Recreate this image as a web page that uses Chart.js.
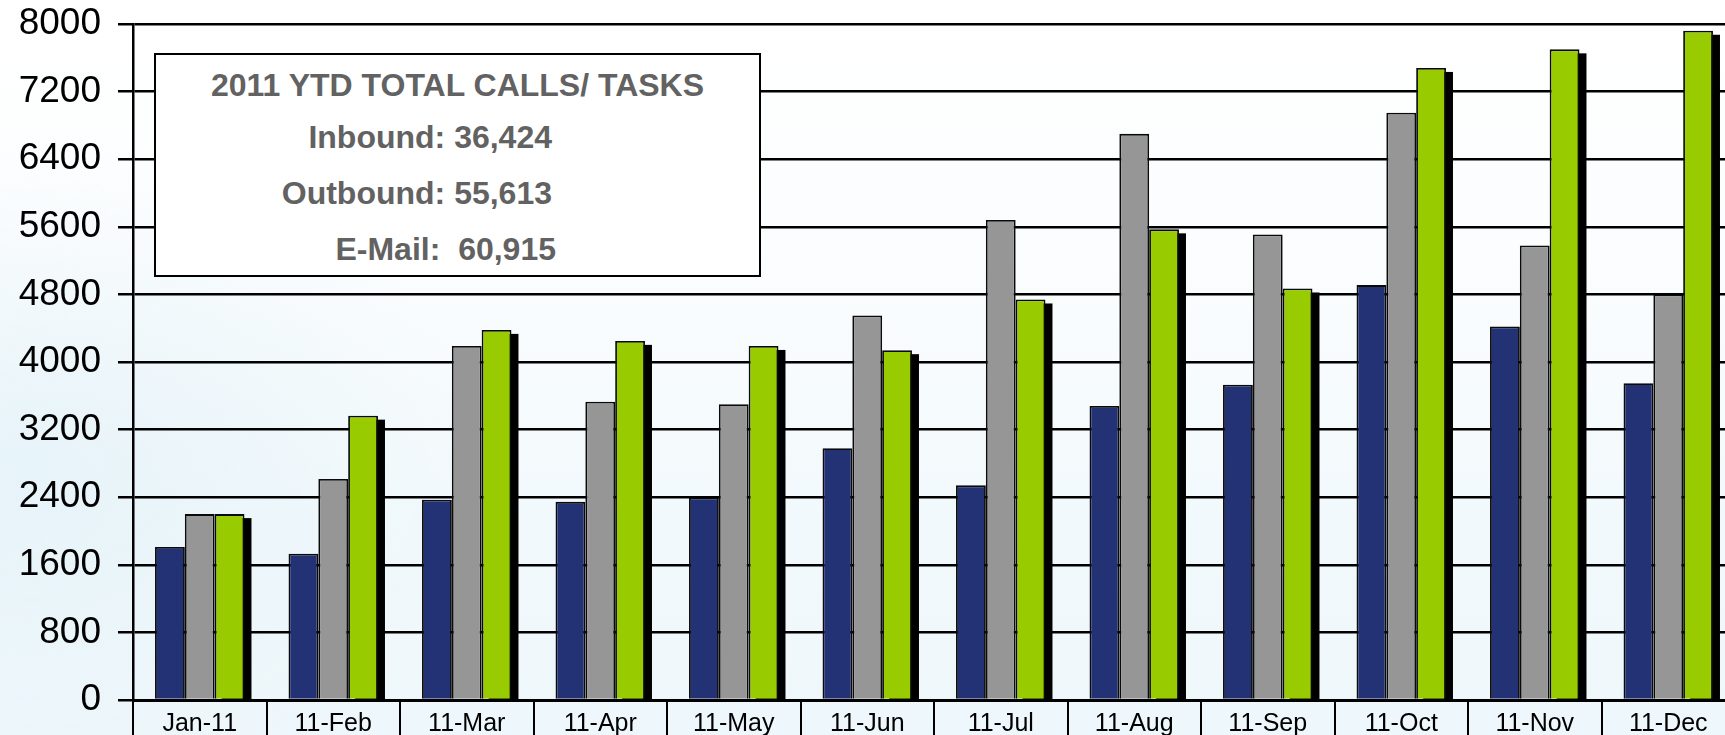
<!DOCTYPE html>
<html>
<head>
<meta charset="utf-8">
<script src="https://cdn.jsdelivr.net/npm/chart.js@4.4.1/dist/chart.umd.min.js"></script>
<style>
  html, body { margin: 0; padding: 0; width: 1725px; height: 735px; overflow: hidden; }
  body {
    background:
      radial-gradient(ellipse 450px 320px at 30px 470px, rgba(222,239,246,0.6), rgba(222,239,246,0) 100%),
      linear-gradient(to bottom, #ffffff 0%, #fbfdfe 35%, #f2f9fc 70%, #eef7fb 100%);
    font-family: "Liberation Sans", Arial, sans-serif;
  }
  #wrap { position: absolute; left: 0; top: 0; width: 1740px; height: 735px; }
  #summary {
    position: absolute; left: 154px; top: 53px; width: 607px; height: 224px;
    box-sizing: border-box; border: 2px solid #000; background: #ffffff;
    color: #626262; font-weight: bold; font-size: 32px;
  }
  #summary div { position: absolute; white-space: pre; line-height: 36px; }
  #summary .title { left: 0; width: 100%; text-align: center; top: 12px; }
  #summary .row { right: 207px; text-align: right; }
</style>
</head>
<body>
<div id="wrap"><canvas id="c" width="1740" height="735"></canvas></div>
<div id="summary"></div>
<script>
// ---- data ----
const categories = ["Jan-11","11-Feb","11-Mar","11-Apr","11-May","11-Jun","11-Jul","11-Aug","11-Sep","11-Oct","11-Nov","11-Dec"];
const inbound  = [1810, 1730, 2370, 2345, 2395, 2980, 2540, 3480, 3730, 4910, 4420, 3750];
const outbound = [2200, 2615, 4190, 3530, 3500, 4550, 5680, 6700, 5510, 6950, 5380, 4800];
const email    = [2200, 3365, 4380, 4250, 4190, 4140, 4740, 5570, 4870, 7480, 7700, 7920];
const yTicks   = [0, 800, 1600, 2400, 3200, 4000, 4800, 5600, 6400, 7200, 8000];
const summaryTitle  = "2011 YTD TOTAL CALLS/ TASKS";
const summaryLabels = ["Inbound:", "Outbound:", "E-Mail: "];
const summaryTotals = ["36,424", "55,613", "60,915"];

// ---- summary box (real text) ----
const box = document.getElementById('summary');
const t = document.createElement('div');
t.className = 'title'; t.textContent = summaryTitle; box.appendChild(t);
const rowTops = [64, 120, 176];
summaryLabels.forEach((lab, i) => {
  const d = document.createElement('div');
  d.className = 'row';
  d.style.top = rowTops[i] + 'px';
  d.textContent = lab + ' ' + summaryTotals[i];
  if (i === 2) d.style.right = '203px';
  box.appendChild(d);
});

// ---- shadow plugin for the last series ----
const shadowPlugin = {
  id: 'barShadow',
  beforeDatasetsDraw(chart) {
    const meta = chart.getDatasetMeta(2);
    const ctx = chart.ctx;
    ctx.save();
    ctx.fillStyle = '#000000';
    meta.data.forEach(el => {
      const w = el.width;
      const left = el.x - w / 2 + 7;
      const top = el.y + 4;
      ctx.fillRect(left, top, w, el.base - top + 2);
    });
    ctx.restore();
  }
};

const ds = (data, color) => ({
  data, backgroundColor: color, borderColor: '#0a0a0a', borderWidth: 1.8,
  borderSkipped: 'bottom', barPercentage: 1.0, categoryPercentage: 0.67
});

new Chart(document.getElementById('c'), {
  type: 'bar',
  data: {
    labels: categories,
    datasets: [ds(inbound, '#233175'), ds(outbound, '#969696'), ds(email, '#99CC00')]
  },
  plugins: [shadowPlugin],
  options: {
    responsive: false,
    animation: false,
    events: [],
    layout: { padding: { top: 24, right: 5, left: 0, bottom: 0 } },
    plugins: { legend: { display: false }, tooltip: { enabled: false } },
    scales: {
      x: {
        offset: true,
        grid: { drawOnChartArea: false, drawTicks: true, tickLength: 36, color: '#000000', lineWidth: 2, offset: true },
        border: { display: true, color: '#000000', width: 3 },
        ticks: { color: '#000000', padding: -27, maxRotation: 0, autoSkip: false,
                 font: { family: '"Liberation Sans", Arial, sans-serif', size: 25 } },
        afterFit(scale) { scale.height = 35; scale.paddingLeft = 0; scale.paddingRight = 0; }
      },
      y: {
        min: 0, max: 8000,
        afterBuildTicks(scale) { scale.ticks = yTicks.map(v => ({ value: v })); },
        grid: { color: '#000000', lineWidth: 2.5, drawTicks: true, tickLength: 15 },
        border: { display: true, color: '#000000', width: 2.5 },
        ticks: { color: '#000000', padding: 17, callback: (v) => String(v),
                 font: { family: '"Liberation Sans", Arial, sans-serif', size: 37 } },
        afterFit(scale) { scale.width = 133; scale.paddingTop = 0; scale.paddingBottom = 0; }
      }
    }
  }
});
</script>
</body>
</html>
